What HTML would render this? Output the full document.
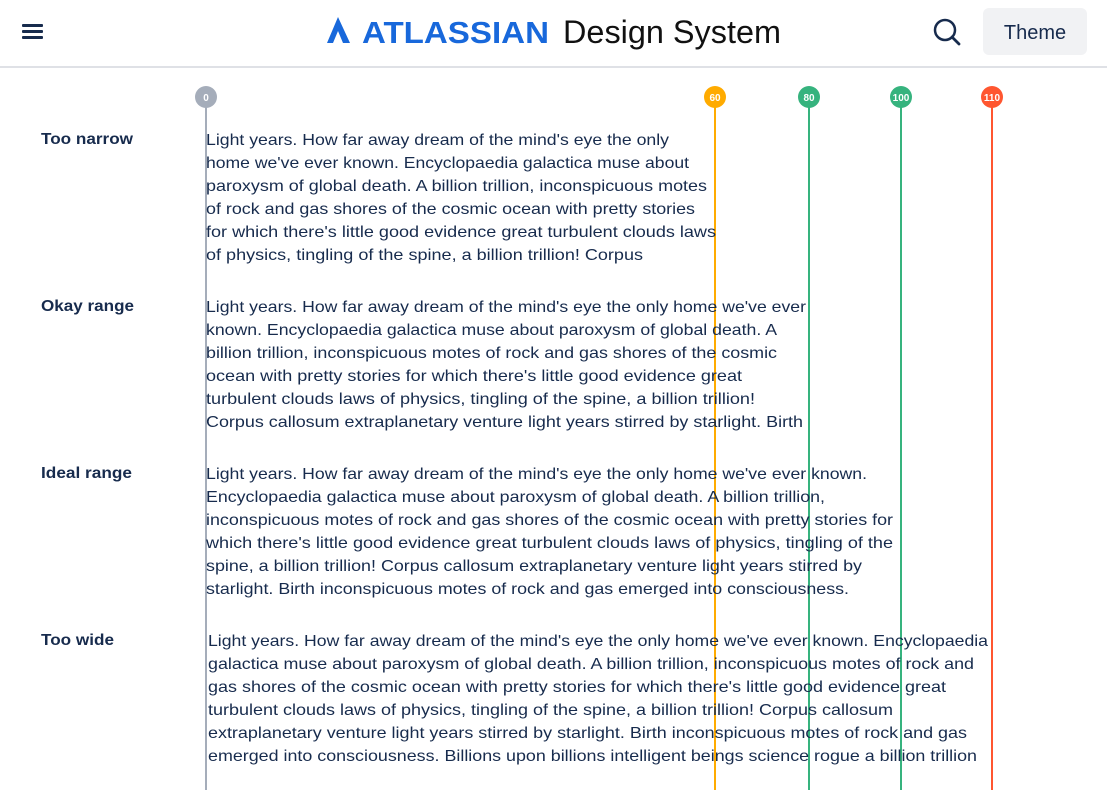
<!DOCTYPE html>
<html><head><meta charset="utf-8"><style>
html,body{margin:0;padding:0;background:#fff;width:1107px;height:805px;overflow:hidden}
svg{display:block}
.t{font-family:"Liberation Sans",sans-serif;font-size:16px;fill:#172b4d}
.l{font-family:"Liberation Sans",sans-serif;font-size:16px;font-weight:bold;fill:#172b4d}
.c{font-family:"Liberation Sans",sans-serif;font-size:10px;font-weight:bold;fill:#fff}
</style></head><body>
<svg width="1107" height="805" xmlns="http://www.w3.org/2000/svg">
<rect x="22" y="24" width="21" height="3" rx="1" fill="#172b4d"/>
<rect x="22" y="30" width="21" height="3" rx="1" fill="#172b4d"/>
<rect x="22" y="36" width="21" height="3" rx="1" fill="#172b4d"/>
<path d="M338 17 L350 43 L343 43 L338 31 L333 43 L327 43 Z" fill="#1868db"/>
<text x="362" y="43" font-family="Liberation Sans,sans-serif" font-weight="bold" font-size="31" fill="#1868db" textLength="187" lengthAdjust="spacingAndGlyphs">ATLASSIAN</text>
<text x="563" y="43" font-family="Liberation Sans,sans-serif" font-size="32" fill="#111" textLength="218" lengthAdjust="spacingAndGlyphs">Design System</text>
<circle cx="945" cy="30" r="10" fill="none" stroke="#172b4d" stroke-width="2.5"/>
<line x1="952" y1="37" x2="959" y2="44" stroke="#172b4d" stroke-width="2.8" stroke-linecap="round"/>
<rect x="983" y="8" width="104" height="47" rx="6" fill="#f1f2f4"/>
<text x="1035" y="39" text-anchor="middle" font-family="Liberation Sans,sans-serif" font-size="20" fill="#172b4d">Theme</text>
<rect x="0" y="66" width="1107" height="2" fill="#dfe1e6"/>

<line x1="206" y1="100" x2="206" y2="790" stroke="#a5adba" stroke-width="2"/>
<line x1="715" y1="100" x2="715" y2="790" stroke="#ffab00" stroke-width="2"/>
<line x1="809" y1="100" x2="809" y2="790" stroke="#36b37e" stroke-width="2"/>
<line x1="901" y1="100" x2="901" y2="790" stroke="#36b37e" stroke-width="2"/>
<line x1="992" y1="100" x2="992" y2="790" stroke="#ff5630" stroke-width="2"/>
<circle cx="206" cy="97" r="11" fill="#a5adba"/><text class="c" x="206" y="101" text-anchor="middle">0</text>
<circle cx="715" cy="97" r="11" fill="#ffab00"/><text class="c" x="715" y="101" text-anchor="middle">60</text>
<circle cx="809" cy="97" r="11" fill="#36b37e"/><text class="c" x="809" y="101" text-anchor="middle">80</text>
<circle cx="901" cy="97" r="11" fill="#36b37e"/><text class="c" x="901" y="101" text-anchor="middle">100</text>
<circle cx="992" cy="97" r="11" fill="#ff5630"/><text class="c" x="992" y="101" text-anchor="middle">110</text>

<text class="l" x="41" y="144" textLength="92" lengthAdjust="spacingAndGlyphs">Too narrow</text>
<text class="l" x="41" y="311" textLength="93" lengthAdjust="spacingAndGlyphs">Okay range</text>
<text class="l" x="41" y="478" textLength="91" lengthAdjust="spacingAndGlyphs">Ideal range</text>
<text class="l" x="41" y="645" textLength="73" lengthAdjust="spacingAndGlyphs">Too wide</text>

<g class="t">
<text x="206" y="145" textLength="463" lengthAdjust="spacingAndGlyphs">Light years. How far away dream of the mind's eye the only</text>
<text x="206" y="168" textLength="483" lengthAdjust="spacingAndGlyphs">home we've ever known. Encyclopaedia galactica muse about</text>
<text x="206" y="191" textLength="501" lengthAdjust="spacingAndGlyphs">paroxysm of global death. A billion trillion, inconspicuous motes</text>
<text x="206" y="214" textLength="489" lengthAdjust="spacingAndGlyphs">of rock and gas shores of the cosmic ocean with pretty stories</text>
<text x="206" y="237" textLength="510" lengthAdjust="spacingAndGlyphs">for which there's little good evidence great turbulent clouds laws</text>
<text x="206" y="260" textLength="437" lengthAdjust="spacingAndGlyphs">of physics, tingling of the spine, a billion trillion! Corpus</text>

<text x="206" y="312" textLength="600" lengthAdjust="spacingAndGlyphs">Light years. How far away dream of the mind's eye the only home we've ever</text>
<text x="206" y="335" textLength="571" lengthAdjust="spacingAndGlyphs">known. Encyclopaedia galactica muse about paroxysm of global death. A</text>
<text x="206" y="358" textLength="571" lengthAdjust="spacingAndGlyphs">billion trillion, inconspicuous motes of rock and gas shores of the cosmic</text>
<text x="206" y="381" textLength="536" lengthAdjust="spacingAndGlyphs">ocean with pretty stories for which there's little good evidence great</text>
<text x="206" y="404" textLength="549" lengthAdjust="spacingAndGlyphs">turbulent clouds laws of physics, tingling of the spine, a billion trillion!</text>
<text x="206" y="427" textLength="597" lengthAdjust="spacingAndGlyphs">Corpus callosum extraplanetary venture light years stirred by starlight. Birth</text>

<text x="206" y="479" textLength="661" lengthAdjust="spacingAndGlyphs">Light years. How far away dream of the mind's eye the only home we've ever known.</text>
<text x="206" y="502" textLength="619" lengthAdjust="spacingAndGlyphs">Encyclopaedia galactica muse about paroxysm of global death. A billion trillion,</text>
<text x="206" y="525" textLength="687" lengthAdjust="spacingAndGlyphs">inconspicuous motes of rock and gas shores of the cosmic ocean with pretty stories for</text>
<text x="206" y="548" textLength="687" lengthAdjust="spacingAndGlyphs">which there's little good evidence great turbulent clouds laws of physics, tingling of the</text>
<text x="206" y="571" textLength="656" lengthAdjust="spacingAndGlyphs">spine, a billion trillion! Corpus callosum extraplanetary venture light years stirred by</text>
<text x="206" y="594" textLength="643" lengthAdjust="spacingAndGlyphs">starlight. Birth inconspicuous motes of rock and gas emerged into consciousness.</text>

<text x="208" y="646" textLength="780" lengthAdjust="spacingAndGlyphs">Light years. How far away dream of the mind's eye the only home we've ever known. Encyclopaedia</text>
<text x="208" y="669" textLength="766" lengthAdjust="spacingAndGlyphs">galactica muse about paroxysm of global death. A billion trillion, inconspicuous motes of rock and</text>
<text x="208" y="692" textLength="738" lengthAdjust="spacingAndGlyphs">gas shores of the cosmic ocean with pretty stories for which there's little good evidence great</text>
<text x="208" y="715" textLength="685" lengthAdjust="spacingAndGlyphs">turbulent clouds laws of physics, tingling of the spine, a billion trillion! Corpus callosum</text>
<text x="208" y="738" textLength="759" lengthAdjust="spacingAndGlyphs">extraplanetary venture light years stirred by starlight. Birth inconspicuous motes of rock and gas</text>
<text x="208" y="761" textLength="769" lengthAdjust="spacingAndGlyphs">emerged into consciousness. Billions upon billions intelligent beings science rogue a billion trillion</text>
</g>
</svg>
</body></html>
